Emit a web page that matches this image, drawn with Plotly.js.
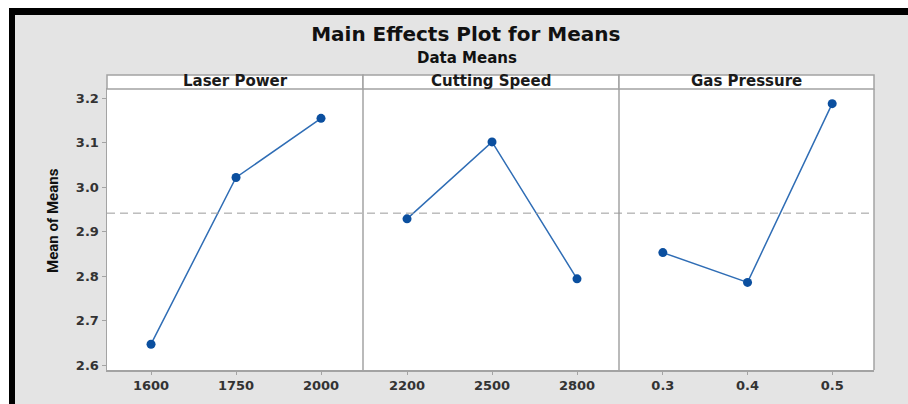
<!DOCTYPE html>
<html>
<head>
<meta charset="utf-8">
<script src="https://cdn.plot.ly/plotly-3.0.1.min.js"></script>
<style>html,body{margin:0;padding:0;background:#fff;}#chart{width:908px;height:404px;}</style>
</head>
<body>
<div id="chart"></div>
<script>
// ---- data ----
const factorNames = ['Laser Power', 'Cutting Speed', 'Gas Pressure'];
const laserPowerLevels = ['1600', '1750', '2000'];
const laserPowerMeans = [2.647, 3.022, 3.155];
const cuttingSpeedLevels = ['2200', '2500', '2800'];
const cuttingSpeedMeans = [2.929, 3.102, 2.794];
const gasPressureLevels = ['0.3', '0.4', '0.5'];
const gasPressureMeans = [2.853, 2.786, 3.188];
const yTickValues = [2.6, 2.7, 2.8, 2.9, 3.0, 3.1, 3.2];
const yTickLabels = ['2.6', '2.7', '2.8', '2.9', '3.0', '3.1', '3.2'];
const chartTitle = 'Main Effects Plot for Means';
const chartSubtitle = 'Data Means';
const yTitle = 'Mean of Means';

// ---- layout helpers ----
const W = 908, H = 404;
const px = v => v / W;
const py = v => (H - v) / H;
const panelEdges = [107, 363, 619, 874];
const panelTop = 89, panelBottom = 370, stripTop = 75;

const allMeans = laserPowerMeans.concat(cuttingSpeedMeans, gasPressureMeans);
const grandMean = allMeans.reduce((a, b) => a + b, 0) / allMeans.length;

const blue = '#2f6db5';
const markerBlue = '#0b4f9f';
const frame = '#a3a3a3';
const tickFont = {family: 'DejaVu Sans, sans-serif', size: 13, color: '#333', weight: 'bold'};

const levels = [laserPowerLevels, cuttingSpeedLevels, gasPressureLevels];
const means = [laserPowerMeans, cuttingSpeedMeans, gasPressureMeans];
const axisIds = ['', '2', '3'];

const traces = levels.map((lv, i) => ({
  type: 'scatter',
  mode: 'lines+markers',
  x: lv,
  y: means[i],
  xaxis: 'x' + axisIds[i],
  yaxis: 'y',
  name: factorNames[i],
  line: {color: blue, width: 1.5},
  marker: {color: markerBlue, size: 9},
  showlegend: false,
  hoverinfo: 'x+y'
}));

const layout = {
  width: W, height: H,
  margin: {l: 0, r: 0, t: 0, b: 0},
  paper_bgcolor: '#e4e4e4',
  plot_bgcolor: '#ffffff',
  showlegend: false,
  title: {
    text: chartTitle,
    x: 0.513, xanchor: 'center', xref: 'paper',
    y: py(34), yanchor: 'middle', yref: 'container',
    font: {family: 'DejaVu Sans, sans-serif', size: 20, color: '#111', weight: 'bold'}
  },
  yaxis: {
    domain: [py(panelBottom), py(panelTop)],
    anchor: 'x',
    range: [2.589, 3.221],
    tickvals: yTickValues,
    ticktext: yTickLabels,
    ticks: 'outside', ticklen: 4, tickcolor: frame, tickwidth: 1,
    tickfont: tickFont,
    showgrid: false, zeroline: false,
    showline: true, linecolor: frame, linewidth: 1.5, mirror: false
  },
  shapes: [],
  annotations: []
};

levels.forEach((lv, i) => {
  const key = 'xaxis' + axisIds[i];
  layout[key] = {
    domain: [px(panelEdges[i]), px(panelEdges[i + 1])],
    anchor: 'y',
    type: 'category',
    range: [-0.518, 2.494],
    ticks: 'outside', ticklen: 3, tickcolor: frame, tickwidth: 1,
    tickfont: tickFont,
    showgrid: false, zeroline: false,
    showline: true, linecolor: frame, linewidth: 1.5, mirror: true
  };
  // strip header box
  layout.shapes.push({
    type: 'rect', xref: 'paper', yref: 'paper',
    x0: px(panelEdges[i]), x1: px(panelEdges[i + 1]),
    y0: py(panelTop), y1: py(stripTop),
    fillcolor: '#ffffff', line: {color: frame, width: 1.5}
  });
  // right-hand divider / border of each panel
  layout.shapes.push({
    type: 'line', xref: 'paper', yref: 'paper',
    x0: px(panelEdges[i + 1]), x1: px(panelEdges[i + 1]),
    y0: py(panelBottom), y1: py(panelTop),
    line: {color: frame, width: 1.5}, layer: 'above'
  });
  layout.annotations.push({
    text: factorNames[i], showarrow: false,
    xref: 'paper', yref: 'paper',
    x: (px(panelEdges[i]) + px(panelEdges[i + 1])) / 2, xanchor: 'center',
    y: py(81.5), yanchor: 'middle',
    font: {family: 'DejaVu Sans, sans-serif', size: 15, color: '#1a1a1a', weight: 'bold'}
  });
});

// grand mean reference line across all panels
layout.shapes.push({
  type: 'line', xref: 'paper', yref: 'y',
  x0: px(panelEdges[0]), x1: px(panelEdges[3]),
  y0: grandMean, y1: grandMean,
  line: {color: '#9a9a9a', width: 1, dash: '8px,5px'},
  layer: 'above'
});

// outer frame (white margin + black border as in the reference crop)
layout.shapes.push(
  {type: 'rect', xref: 'paper', yref: 'paper', x0: 0, x1: 1, y0: py(8), y1: 1, fillcolor: '#ffffff', line: {width: 0}},
  {type: 'rect', xref: 'paper', yref: 'paper', x0: 0, x1: px(9), y0: 0, y1: 1, fillcolor: '#ffffff', line: {width: 0}},
  {type: 'rect', xref: 'paper', yref: 'paper', x0: px(9), x1: 1, y0: py(15), y1: py(8), fillcolor: '#000000', line: {width: 0}},
  {type: 'rect', xref: 'paper', yref: 'paper', x0: px(9), x1: px(15), y0: 0, y1: py(8), fillcolor: '#000000', line: {width: 0}}
);

layout.annotations.push({
  text: chartSubtitle, showarrow: false,
  xref: 'paper', yref: 'paper',
  x: px(467), xanchor: 'center',
  y: py(58), yanchor: 'middle',
  font: {family: 'DejaVu Sans, sans-serif', size: 15, color: '#111', weight: 'bold'}
});
layout.annotations.push({
  text: yTitle, showarrow: false, textangle: -90,
  xref: 'paper', yref: 'paper',
  x: px(53), xanchor: 'center',
  y: py(221), yanchor: 'middle',
  font: {family: 'Roboto, Liberation Sans, sans-serif', size: 15, color: '#111', weight: 'bold'}
});

Plotly.newPlot('chart', traces, layout, {displayModeBar: false, staticPlot: true});
</script>
</body>
</html>
